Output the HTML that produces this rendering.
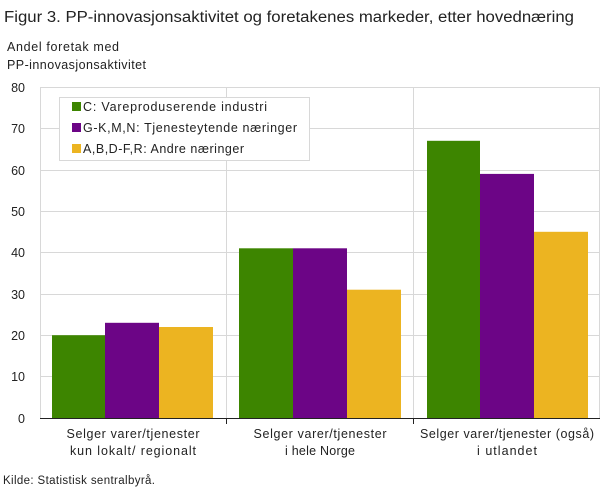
<!DOCTYPE html>
<html><head><meta charset="utf-8"><style>
body{margin:0;background:#fff;}
svg text{font-family:"Liberation Sans",sans-serif;fill:#222;}
</style></head><body>
<svg width="609" height="488" xmlns="http://www.w3.org/2000/svg">
<text x="4" y="22" font-size="15.5" textLength="570" lengthAdjust="spacingAndGlyphs">Figur 3. PP-innovasjonsaktivitet og foretakenes markeder, etter hovednæring</text>
<text x="7" y="51" font-size="12.5" textLength="112">Andel foretak med</text>
<text x="7" y="69" font-size="12.5" textLength="139">PP-innovasjonsaktivitet</text>
<g stroke="#d8d8d8" stroke-width="1">
<line x1="40" x2="600" y1="87.5" y2="87.5"/>
<line x1="40" x2="600" y1="128.5" y2="128.5"/>
<line x1="40" x2="600" y1="170.5" y2="170.5"/>
<line x1="40" x2="600" y1="211.5" y2="211.5"/>
<line x1="40" x2="600" y1="252.5" y2="252.5"/>
<line x1="40" x2="600" y1="294.5" y2="294.5"/>
<line x1="40" x2="600" y1="335.5" y2="335.5"/>
<line x1="40" x2="600" y1="376.5" y2="376.5"/>
<line x1="40.5" x2="40.5" y1="87" y2="418"/>
<line x1="226.5" x2="226.5" y1="87" y2="418"/>
<line x1="413.5" x2="413.5" y1="87" y2="418"/>
<line x1="599.5" x2="599.5" y1="87" y2="418"/>
</g>
<g font-size="12.5" text-anchor="end">
<text x="25" y="92">80</text><text x="25" y="133">70</text><text x="25" y="175">60</text>
<text x="25" y="216">50</text><text x="25" y="257">40</text><text x="25" y="299">30</text>
<text x="25" y="340">20</text><text x="25" y="381">10</text><text x="25" y="423">0</text>
</g>
<g fill="#3d8500">
<rect x="52" y="335.2" width="53" height="82.8"/>
<rect x="239" y="248.3" width="54" height="169.7"/>
<rect x="427" y="140.8" width="53" height="277.2"/>
</g>
<g fill="#6c0586">
<rect x="105" y="322.8" width="54" height="95.2"/>
<rect x="293" y="248.3" width="54" height="169.7"/>
<rect x="480" y="173.9" width="54" height="244.1"/>
</g>
<g fill="#ecb421">
<rect x="159" y="327" width="54" height="91"/>
<rect x="347" y="289.7" width="54" height="128.3"/>
<rect x="534" y="231.8" width="54" height="186.2"/>
</g>
<line x1="40" x2="600" y1="418.5" y2="418.5" stroke="#222" stroke-width="1"/>
<g stroke="#222"><line x1="226.5" x2="226.5" y1="418" y2="424"/><line x1="413.5" x2="413.5" y1="418" y2="424"/></g>
<rect x="59.5" y="97.5" width="250" height="63" fill="#fff" stroke="#d8d8d8"/>
<rect x="72" y="102" width="9" height="9" fill="#3d8500"/>
<rect x="72" y="123" width="9" height="9" fill="#6c0586"/>
<rect x="72" y="144" width="9" height="9" fill="#ecb421"/>
<g font-size="12.5">
<text x="83" y="111" textLength="184">C: Vareproduserende industri</text>
<text x="83" y="132" textLength="214">G-K,M,N: Tjenesteytende næringer</text>
<text x="83" y="153" textLength="161">A,B,D-F,R: Andre næringer</text>
</g>
<g font-size="12.5" text-anchor="middle">
<text x="133" y="438" textLength="133">Selger varer/tjenester</text>
<text x="133" y="455" textLength="126">kun lokalt/ regionalt</text>
<text x="320" y="438" textLength="133">Selger varer/tjenester</text>
<text x="320" y="455" textLength="70">i hele Norge</text>
<text x="507" y="438" textLength="174">Selger varer/tjenester (også)</text>
<text x="507" y="455" textLength="60">i utlandet</text>
</g>
<text x="3" y="484" font-size="11.5" textLength="152">Kilde: Statistisk sentralbyrå.</text>
</svg>
</body></html>
